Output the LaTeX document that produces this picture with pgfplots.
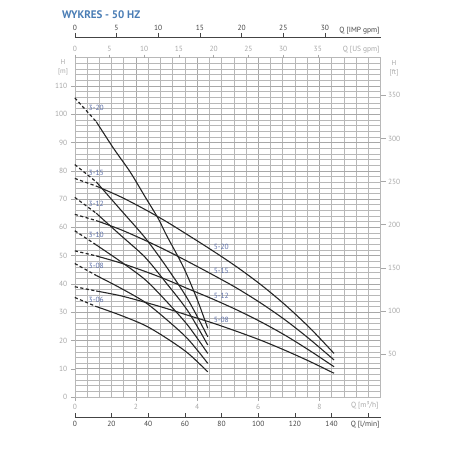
\documentclass[border=0pt]{standalone}
\usepackage{pgfplots}
\pgfplotsset{compat=1.18}
\usepackage{fontspec}
\setmainfont{PT Sans}
\definecolor{titleblue}{HTML}{4A7DB5}
\definecolor{lblblue}{HTML}{5C6FA8}
\definecolor{tgray}{HTML}{A8A8A8}
\definecolor{gridgray}{HTML}{B8B8B8}
\definecolor{vgrid}{HTML}{A8A8A8}
\definecolor{curvec}{HTML}{262626}
\definecolor{darkax}{HTML}{444444}
\pgfplotsset{
  common/.style={at={(74.8bp,55bp)}, anchor=south west, scale only axis,
    width=305.7bp, height=339.3bp,
    /pgf/number format/assume math mode=true,
    ticklabel style={font=\fontsize{7.5}{9}\selectfont},
    clip=false},
  sol/.style={curvec, line width=1.1pt, smooth},
  dsh/.style={curvec, line width=1.2pt, dash pattern=on 3.2pt off 2.4pt},
}
\tikzset{lbl/.style={text=lblblue, font=\fontsize{7.5}{9}\selectfont}}
\begin{document}
\begin{tikzpicture}
\useasboundingbox (0,0) rectangle (452bp,452bp);
% main axis: Q in m3/h, H in m
\begin{axis}[common,
  xmin=0, xmax=10, ymin=0, ymax=120,
  axis line style={gridgray, line width=0.5pt},
  xtick={0,2,4,6,8}, minor xtick={0.4,0.8,...,9.7},
  ytick={0,10,...,110}, minor ytick={2,4,...,119},
  grid=both,
  major grid style={vgrid, line width=0.5pt},
  minor grid style={gridgray, line width=0.5pt},
  xtick pos=left, ytick pos=left,
  tick align=outside, major tick length=4bp, minor tick length=0pt,
  tick style={tgray, line width=0.4pt},
  ticklabel style={text=tgray},
]
% 3-series
\addplot[dsh] coordinates {(0,105.8) (0.7,97.4)};
\addplot[sol] coordinates {(0.7,97.4) (1.27,87.9) (1.81,79.6) (2.30,70.8) (2.73,63.1) (3.0,57.2) (3.55,46.0) (4.0,34.6) (4.35,24.3)};
\addplot[dsh] coordinates {(0,82.2) (0.7,76.1)};
\addplot[sol] coordinates {(0.7,76.1) (1.5,66.2) (2.3,56.3) (3.0,46.0) (3.7,34.5) (4.35,21.3)};
\addplot[dsh] coordinates {(0,70.6) (0.7,65.0)};
\addplot[sol] coordinates {(0.7,65.0) (1.5,57.2) (2.3,49.4) (3.0,40.2) (3.7,30.4) (4.35,18.4)};
\addplot[dsh] coordinates {(0,58.8) (0.7,53.8)};
\addplot[sol] coordinates {(0.7,53.8) (1.5,47.9) (2.3,41.5) (3.0,33.8) (3.7,25.3) (4.35,15.4)};
\addplot[dsh] coordinates {(0,47.2) (0.7,43.0)};
\addplot[sol] coordinates {(0.7,43.0) (1.5,38.5) (2.3,33.5) (3.0,27.4) (3.7,20.5) (4.35,11.9)};
\addplot[dsh] coordinates {(0,35.2) (0.7,32.0)};
\addplot[sol] coordinates {(0.7,32.0) (1.5,28.9) (2.3,25.3) (3.0,20.8) (3.7,15.5) (4.35,8.9)};
% 5-series
\addplot[dsh] coordinates {(0,77.3) (0.7,74.6)};
\addplot[sol] coordinates {(0.7,74.6) (1.5,70.8) (2.3,66.3) (3.0,62.0) (3.7,57.3) (4.5,51.8) (5.3,46.0) (6.1,39.6) (6.9,32.4) (7.7,24.3) (8.48,15.4)};
\addplot[dsh] coordinates {(0,64.6) (0.7,62.4)};
\addplot[sol] coordinates {(0.7,62.4) (1.5,59.2) (2.3,55.4) (3.0,51.8) (3.7,47.9) (4.5,43.3) (5.3,38.5) (6.1,33.1) (6.9,27.1) (7.7,20.3) (8.48,13.1)};
\addplot[dsh] coordinates {(0,51.7) (0.7,49.9)};
\addplot[sol] coordinates {(0.7,49.9) (1.5,47.4) (2.3,44.4) (3.0,41.5) (3.7,38.3) (4.5,34.7) (5.3,30.8) (6.1,26.5) (6.9,21.7) (7.7,16.3) (8.48,10.7)};
\addplot[dsh] coordinates {(0,39.0) (0.7,37.5)};
\addplot[sol] coordinates {(0.7,37.5) (1.5,35.8) (2.3,33.5) (3.0,31.3) (3.7,28.9) (4.5,26.2) (5.3,23.2) (6.1,20.0) (6.9,16.4) (7.7,12.5) (8.48,8.4)};
% curve labels
\node[lbl] at (axis cs:0.70,102.2) {3-20};
\node[lbl] at (axis cs:0.70,79.4) {3-15};
\node[lbl] at (axis cs:0.70,68.4) {3-12};
\node[lbl] at (axis cs:0.70,57.2) {3-10};
\node[lbl] at (axis cs:0.70,46.3) {3-08};
\node[lbl] at (axis cs:0.70,34.5) {3-06};
\node[lbl] at (axis cs:4.79,53.1) {5-20};
\node[lbl] at (axis cs:4.79,44.5) {5-15};
\node[lbl] at (axis cs:4.79,35.8) {5-12};
\node[lbl] at (axis cs:4.79,27.2) {5-08};
\end{axis}
% right axis in ft
\begin{axis}[common,
  xmin=0, xmax=10, ymin=0, ymax=393.7,
  hide x axis, axis y line*=right, y axis line style={draw=none},
  ytick={50,100,...,350},
  tick align=outside, major tick length=5bp,
  tick style={tgray, line width=0.4pt},
  yticklabel style={text=tgray, anchor=west, xshift=-1bp},
]
\end{axis}
% top US gpm axis
\begin{axis}[common,
  xmin=0, xmax=44.03, ymin=0, ymax=1,
  hide y axis, axis x line*=top, x axis line style={draw=none},
  xtick={0,5,...,35},
  tick align=outside, major tick length=3bp,
  tick style={tgray, line width=0.4pt},
  xticklabel style={text=tgray},
]
\end{axis}
% IMP gpm axis
\begin{axis}[at={(74.8bp,55bp)}, anchor=south west, scale only axis,
  width=305.7bp, height=360bp, clip=false,
  /pgf/number format/assume math mode=true,
  ticklabel style={font=\fontsize{7.5}{9}\selectfont, text=darkax},
  xmin=0, xmax=36.66, ymin=0, ymax=1,
  hide y axis, axis x line*=top, x axis line style={darkax, line width=0.8pt, -},
  xtick={0,5,...,30},
  tick align=outside, major tick length=4bp,
  tick style={darkax, line width=0.6pt},
  xticklabel style={yshift=-1.5bp},
]
\end{axis}
% l/min axis
\begin{axis}[at={(74.8bp,34.7bp)}, anchor=south west, scale only axis,
  width=305.7bp, height=10bp, clip=false,
  /pgf/number format/assume math mode=true,
  ticklabel style={font=\fontsize{7.5}{9}\selectfont, text=darkax},
  xmin=0, xmax=166.67, ymin=0, ymax=1,
  hide y axis, axis x line*=bottom, x axis line style={darkax, line width=0.8pt, -},
  xtick={0,20,...,160}, xticklabels={0,20,40,60,80,100,120,140,{}},
  tick align=inside, major tick length=4bp,
  tick style={darkax, line width=0.6pt},
]
\end{axis}
% texts
\node[anchor=west, font=\bfseries\fontsize{11}{13}\selectfont, text=titleblue] at (58.5bp,437bp) {WYKRES - 50 HZ};
\node[anchor=east, font=\fontsize{7.5}{9}\selectfont, text=darkax] at (383bp,421.5bp) {Q [IMP gpm]};
\node[anchor=east, font=\fontsize{7.5}{9}\selectfont, text=tgray] at (383bp,402bp) {Q [US gpm]};
\node[anchor=east, font=\fontsize{7.5}{9}\selectfont, text=tgray] at (382bp,47bp) {Q [m³/h]};
\node[anchor=east, font=\fontsize{7.5}{9}\selectfont, text=darkax] at (383bp,27bp) {Q [l/min]};
\node[font=\fontsize{7}{8}\selectfont, text=tgray] at (63bp,389.5bp) {H};
\node[font=\fontsize{7}{8}\selectfont, text=tgray] at (63bp,380.5bp) {[m]};
\node[font=\fontsize{7}{8}\selectfont, text=tgray] at (394bp,389bp) {H};
\node[font=\fontsize{7}{8}\selectfont, text=tgray] at (394bp,379bp) {[ft]};
\end{tikzpicture}
\end{document}
